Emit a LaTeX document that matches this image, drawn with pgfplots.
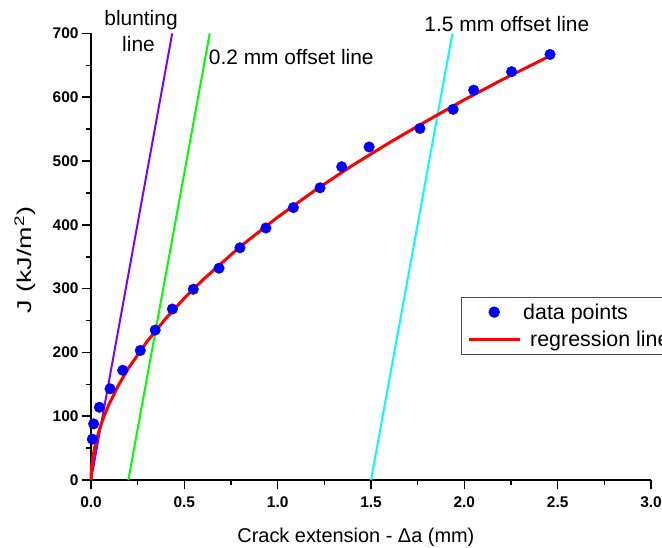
\documentclass[border=0pt]{standalone}
\usepackage{fontspec}
\setmainfont{Liberation Sans}
\usepackage{pgfplots}
\pgfplotsset{compat=1.18}
\definecolor{blunt}{RGB}{128,0,255}
\definecolor{offA}{RGB}{0,255,0}
\definecolor{offB}{RGB}{0,255,255}
\begin{document}
\begin{tikzpicture}
\path[use as bounding box] (0,0) rectangle (662bp,548bp);
\begin{axis}[
  at={(91bp,68bp)}, anchor=south west,
  scale only axis, width=560bp, height=446.6bp,
  xmin=0, xmax=3, ymin=0, ymax=700,
  axis x line*=bottom, axis y line*=left,
  axis line style={line width=1.6bp, black, -},
  tick align=outside, tick style={line width=1.6bp, black},
  major tick length=9bp, minor tick length=5bp,
  xtick={0,0.5,1,1.5,2,2.5,3}, ytick={0,100,200,300,400,500,600,700},
  minor x tick num=1, minor y tick num=1,
  xticklabel style={yshift=-4bp, /pgf/number format/fixed, /pgf/number format/fixed zerofill, /pgf/number format/precision=1},
  ticklabel style={font=\fontsize{15.5}{18}\selectfont\bfseries},
  /pgf/number format/assume math mode=true,
  clip=false,
  xlabel={Crack extension - Δa (mm)},
  ylabel={\scalebox{1.35}[1]{J (kJ/m\textsuperscript{2})}},
  label style={font=\fontsize{20}{24}\selectfont},
  x label style={at={(axis description cs:0.473,-0.1276)}, anchor=center},
  y label style={at={(axis description cs:-0.1179,0.4926)}, anchor=center},
  legend style={at={(axis cs:1.981,287.3)}, anchor=north west, draw=gray!60!black, line width=0.8bp,
    font=\fontsize{21.5}{25}\selectfont, cells={anchor=west}, inner xsep=6bp, inner ysep=4.5bp, row sep=6.7bp},
  legend image code/.code={\draw[mark repeat=2,mark phase=2,#1] plot coordinates {(0bp,0bp) (25.5bp,0bp) (51bp,0bp)};},
]
\addplot[blunt, line width=2bp, forget plot] coordinates {(0,0) (0.435,700)};
\addplot[offA, line width=2bp, forget plot] coordinates {(0.2,0) (0.636,700)};
\addplot[offB, line width=2bp, forget plot] coordinates {(1.5,0) (1.936,700)};
\addplot[only marks, mark=*, mark size=5.3bp, blue, mark options={draw=blue, fill=blue}] coordinates {
(0.007,64) (0.014,88) (0.045,114) (0.102,143) (0.170,172) (0.264,203) (0.344,235)
(0.436,268) (0.548,299) (0.686,332) (0.798,364) (0.937,395) (1.084,427) (1.227,458)
(1.343,491) (1.490,522) (1.762,551) (1.940,581) (2.050,611) (2.253,640) (2.459,667)};
\addlegendentry{data points}
\addplot[red, line width=3bp, no marks] coordinates {
(0,0) (0.001,10.4) (0.002,15.1) (0.005,25) (0.01,36) (0.02,51) (0.03,64) (0.04,74)
(0.055,88) (0.07,100) (0.1,121) (0.15,150) (0.2,175) (0.3,217) (0.4,253) (0.5,285)
(0.6,314) (0.8,366) (1.0,412) (1.2,454) (1.4,493) (1.6,529) (1.8,563) (2.0,596)
(2.2,627) (2.46,665)};
\addlegendentry{\hspace{7bp}regression line\hspace{12bp}}
\node[anchor=base, inner sep=0pt, font=\fontsize{21}{25}\selectfont] at (axis cs:0.268,713) {blunting};
\node[anchor=base, inner sep=0pt, font=\fontsize{21}{25}\selectfont] at (axis cs:0.2545,671.3) {line};
\node[anchor=base west, inner sep=0pt, font=\fontsize{21}{25}\selectfont] at (axis cs:0.6305,650.5) {0.2 mm offset line};
\node[anchor=base west, inner sep=0pt, font=\fontsize{21}{25}\selectfont] at (axis cs:1.7855,702.7) {1.5 mm offset line};
\end{axis}
\end{tikzpicture}
\end{document}
